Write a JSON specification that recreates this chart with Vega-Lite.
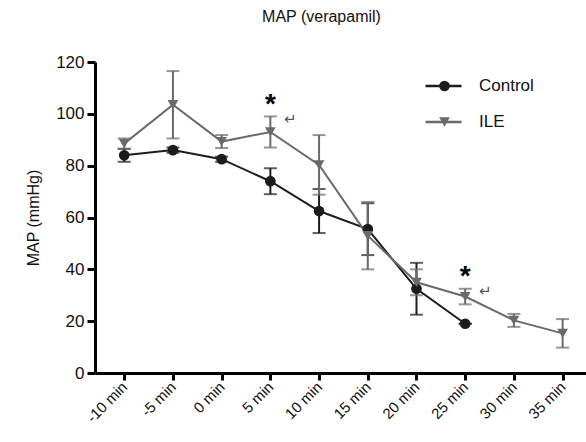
{
  "$schema": "https://vega.github.io/schema/vega-lite/v6.json",
  "autosize": "none",
  "width": 491,
  "height": 311,
  "padding": {"left": 95, "top": 62, "right": 0, "bottom": 69},
  "background": "white",
  "config": {
    "font": "Liberation Sans",
    "view": {"stroke": null},
    "axis": {"domainColor": "#000", "domainWidth": 3, "tickColor": "#000", "tickWidth": 3, "tickSize": 8, "grid": false, "labelColor": "#111", "titleColor": "#111", "titleFontWeight": "normal"},
    "axisX": {"labelFontSize": 15, "labelAngle": -45, "labelAlign": "right", "labelBaseline": "middle", "labelPadding": 4, "tickSize": 7},
    "axisY": {"labelFontSize": 17, "labelPadding": 3, "titleFontSize": 16, "titlePadding": 14}
  },
  "title": {
    "text": "MAP (verapamil)",
    "fontSize": 16,
    "fontWeight": "normal",
    "font": "Liberation Sans",
    "color": "#111",
    "anchor": "middle",
    "frame": "group",
    "dx": -19,
    "offset": 28
  },
  "datasets": {
    "main": [
      {"time": -10, "group": "Control", "map": 84, "err": 2.5},
      {"time": -5, "group": "Control", "map": 86, "err": 1},
      {"time": 0, "group": "Control", "map": 82.5, "err": 1},
      {"time": 5, "group": "Control", "map": 74, "err": 5},
      {"time": 10, "group": "Control", "map": 62.5, "err": 8.5},
      {"time": 15, "group": "Control", "map": 55.5, "err": 10},
      {"time": 20, "group": "Control", "map": 32.5, "err": 10},
      {"time": 25, "group": "Control", "map": 19, "err": 0},
      {"time": -10, "group": "ILE", "map": 88.5, "err": 2},
      {"time": -5, "group": "ILE", "map": 103.5, "err": 13},
      {"time": 0, "group": "ILE", "map": 89.3, "err": 2.5},
      {"time": 5, "group": "ILE", "map": 93, "err": 6},
      {"time": 10, "group": "ILE", "map": 80.3, "err": 11.5},
      {"time": 15, "group": "ILE", "map": 53, "err": 13},
      {"time": 20, "group": "ILE", "map": 35, "err": 5},
      {"time": 25, "group": "ILE", "map": 29.5, "err": 3},
      {"time": 30, "group": "ILE", "map": 20.3, "err": 2.5},
      {"time": 35, "group": "ILE", "map": 15.3, "err": 5.5}
    ],
    "notes": [
      {"time": 5, "y": 103.5, "star": "*", "arrow": "↵", "ay": 98},
      {"time": 25, "y": 37, "star": "*", "arrow": "↵", "ay": 31.5}
    ]
  },
  "layer": [
    {
      "data": {"name": "main"},
      "transform": [{"filter": "datum.group === 'Control'"}],
      "mark": {"type": "errorbar", "ticks": {"size": 13, "thickness": 2}, "thickness": 2, "color": "#1c1c1c"},
      "encoding": {
        "x": {"field": "time", "type": "quantitative", "title": null, "scale": {"domain": [-13, 37.4], "nice": false, "zero": false},
          "axis": {"values": [-10, -5, 0, 5, 10, 15, 20, 25, 30, 35], "labelExpr": "datum.value + ' min'"}},
        "y": {"field": "map", "type": "quantitative", "title": "MAP (mmHg)", "scale": {"domain": [0, 120], "nice": false},
          "axis": {"values": [0, 20, 40, 60, 80, 100, 120]}},
        "yError": {"field": "err"}
      }
    },
    {
      "data": {"name": "main"},
      "transform": [{"filter": "datum.group === 'ILE'"}],
      "mark": {"type": "errorbar", "ticks": {"size": 13, "thickness": 2}, "thickness": 2, "color": "#6a6a6a"},
      "encoding": {
        "x": {"field": "time", "type": "quantitative", "title": null},
        "y": {"field": "map", "type": "quantitative", "title": "MAP (mmHg)"},
        "yError": {"field": "err"}
      }
    },
    {
      "data": {"name": "main"},
      "mark": {"type": "line", "strokeWidth": 2},
      "encoding": {
        "x": {"field": "time", "type": "quantitative", "title": null},
        "y": {"field": "map", "type": "quantitative", "title": "MAP (mmHg)"},
        "color": {"field": "group", "type": "nominal", "scale": {"domain": ["Control", "ILE"], "range": ["#1c1c1c", "#6a6a6a"]},
          "legend": {"orient": "none", "legendX": 329, "legendY": 6, "title": null, "symbolType": "stroke", "symbolSize": 1300, "symbolStrokeWidth": 2.5, "clipHeight": 36, "rowPadding": 0, "labelFontSize": 17, "labelColor": "#111", "labelOffset": 16, "padding": 0}},
        "detail": {"field": "group"}
      }
    },
    {
      "data": {"name": "main"},
      "mark": {"type": "point", "filled": true, "opacity": 1},
      "encoding": {
        "x": {"field": "time", "type": "quantitative", "title": null},
        "y": {"field": "map", "type": "quantitative", "title": "MAP (mmHg)"},
        "fill": {"field": "group", "type": "nominal", "scale": {"range": ["#1c1c1c", "#6a6a6a"]},
          "legend": {"orient": "none", "legendX": 341, "legendY": 6, "title": null, "symbolSize": 115, "symbolOpacity": 1, "clipHeight": 36, "rowPadding": 0, "labelFontSize": 17, "labelExpr": "''", "labelOpacity": 0, "padding": 0}},
        "shape": {"field": "group", "type": "nominal", "scale": {"range": ["circle", "triangle-down"]},
          "legend": {"orient": "none", "legendX": 341, "legendY": 6, "title": null, "symbolSize": 115, "symbolOpacity": 1, "clipHeight": 36, "rowPadding": 0, "labelFontSize": 17, "labelExpr": "''", "labelOpacity": 0, "padding": 0}},
        "size": {"value": 115}
      }
    },
    {
      "data": {"name": "notes"},
      "mark": {"type": "text", "fontSize": 28, "fontWeight": "bold", "color": "#000", "baseline": "middle"},
      "encoding": {
        "x": {"field": "time", "type": "quantitative"},
        "y": {"field": "y", "type": "quantitative"},
        "text": {"field": "star"}
      }
    },
    {
      "data": {"name": "notes"},
      "mark": {"type": "text", "fontSize": 15, "color": "#555", "baseline": "middle", "dx": 20, "font": "DejaVu Sans"},
      "encoding": {
        "x": {"field": "time", "type": "quantitative"},
        "y": {"field": "ay", "type": "quantitative"},
        "text": {"field": "arrow"}
      }
    }
  ]
}
